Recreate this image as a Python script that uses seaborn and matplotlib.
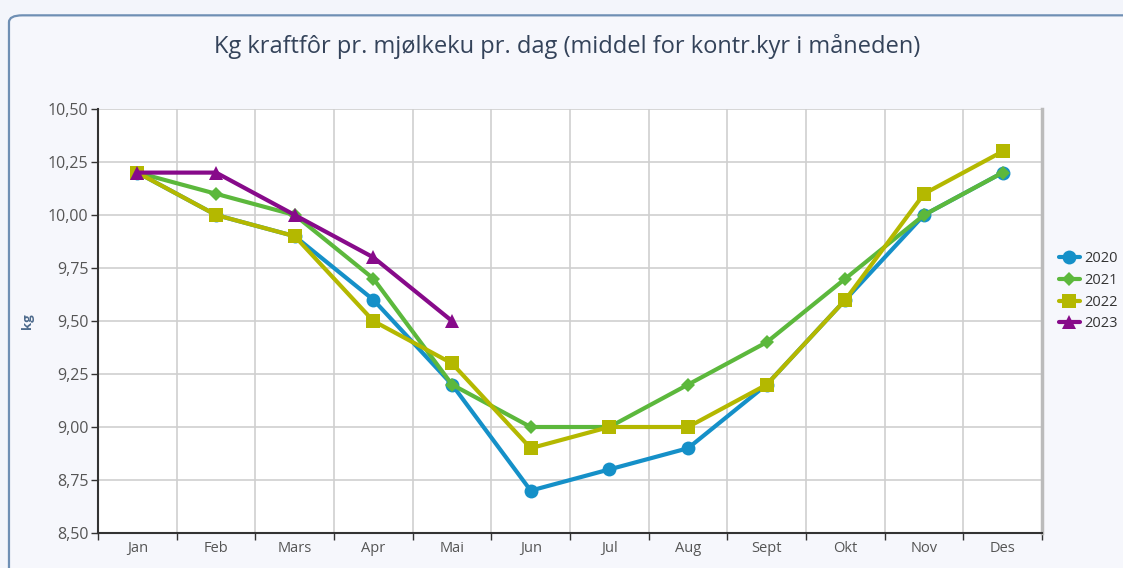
import numpy as np
import pandas as pd
import matplotlib
matplotlib.use("Agg")
import matplotlib.pyplot as plt
from matplotlib.patches import FancyBboxPatch
import seaborn as sns

months = ["Jan", "Feb", "Mars", "Apr", "Mai", "Jun", "Jul", "Aug", "Sept", "Okt", "Nov", "Des"]
kg_2020 = [10.2, 10.0, 9.9, 9.6, 9.2, 8.7, 8.8, 8.9, 9.2, 9.6, 10.0, 10.2]
kg_2021 = [10.2, 10.1, 10.0, 9.7, 9.2, 9.0, 9.0, 9.2, 9.4, 9.7, 10.0, 10.2]
kg_2022 = [10.2, 10.0, 9.9, 9.5, 9.3, 8.9, 9.0, 9.0, 9.2, 9.6, 10.1, 10.3]
kg_2023 = [10.2, 10.2, 10.0, 9.8, 9.5]
years = ["2020", "2021", "2022", "2023"]
y_ticks = [8.5, 8.75, 9.0, 9.25, 9.5, 9.75, 10.0, 10.25, 10.5]

colors = {"2020": "#1590c8", "2021": "#5cb83c", "2022": "#b4b800", "2023": "#870a8a"}
markers = {"2020": "o", "2021": "D", "2022": "s", "2023": "^"}
sizes = {"2020": 10, "2021": 7, "2022": 10, "2023": 10}

rows = []
for year, vals in zip(years, [kg_2020, kg_2021, kg_2022, kg_2023]):
    for i, v in enumerate(vals):
        rows.append({"year": year, "idx": i, "month": months[i], "kg": v})
df = pd.DataFrame(rows)

sns.set_theme(style="white")
plt.rcParams["font.family"] = ["Open Sans", "DejaVu Sans"]

fig = plt.figure(figsize=(11.23, 5.68), dpi=100)
fig.patch.set_facecolor("#f3f5fb")

# outer panel with rounded border, behind everything
panel = FancyBboxPatch((0.008, -0.05), 1.05, 1.023, boxstyle="round,pad=0,rounding_size=0.012",
                       transform=fig.transFigure, facecolor="#f6f7fc", edgecolor="#6f8fb4",
                       linewidth=1.6, zorder=-10)
fig.patches.append(panel)

ax = fig.add_axes([0.0873, 0.0616, 0.8406, 0.7465])
ax.set_zorder(5)
ax.set_facecolor("white")

for year in years:
    sub = df[df["year"] == year]
    sns.lineplot(data=sub, x="idx", y="kg", ax=ax, color=colors[year], linewidth=3,
                 marker=markers[year], markersize=sizes[year], markeredgewidth=0,
                 label=year, zorder=3)

ax.set_xlim(-0.5, 11.5)
ax.set_ylim(8.5, 10.5)
ax.set_xticks(range(len(months)))
ax.set_xticklabels(months)
ax.set_xticks(np.arange(-0.5, 12, 1), minor=True)
ax.set_yticks(y_ticks)
ax.set_yticklabels([f"{t:.2f}".replace(".", ",") for t in y_ticks])

ax.grid(True, which="minor", axis="x", color="#cfcfcf", linewidth=1.2)
ax.grid(True, which="major", axis="y", color="#cfcfcf", linewidth=1.2)
ax.grid(False, which="major", axis="x")

ax.tick_params(axis="x", which="major", length=0, labelsize=10.5, labelcolor="#555555", pad=6)
ax.tick_params(axis="x", which="minor", length=5, width=1, color="#333333", direction="out", bottom=True)
ax.tick_params(axis="y", length=5, width=1, color="#333333", labelsize=11.5, labelcolor="#555555",
               direction="out", left=True, pad=2)

for side in ["left", "bottom"]:
    ax.spines[side].set_color("#333333")
    ax.spines[side].set_linewidth(1.5)
ax.spines["top"].set_visible(False)
ax.spines["right"].set_color("#bbbbbb")
ax.spines["right"].set_linewidth(2.5)

ax.set_xlabel("")
ax.set_ylabel("kg", color="#4d6a8c", fontsize=9.5, fontweight="bold", labelpad=10)

ax.legend(loc="center left", bbox_to_anchor=(1.012, 0.57), frameon=False, fontsize=10.5,
          handlelength=1.4, handletextpad=0.3, labelspacing=0.45, borderaxespad=0,
          labelcolor="#333333")

fig.text(0.505, 0.918, "Kg kraftfôr pr. mjølkeku pr. dag (middel for kontr.kyr i måneden)",
         ha="center", va="center", fontsize=17, color="#34435a")

fig.savefig("out.png", dpi=100, facecolor=fig.get_facecolor())
